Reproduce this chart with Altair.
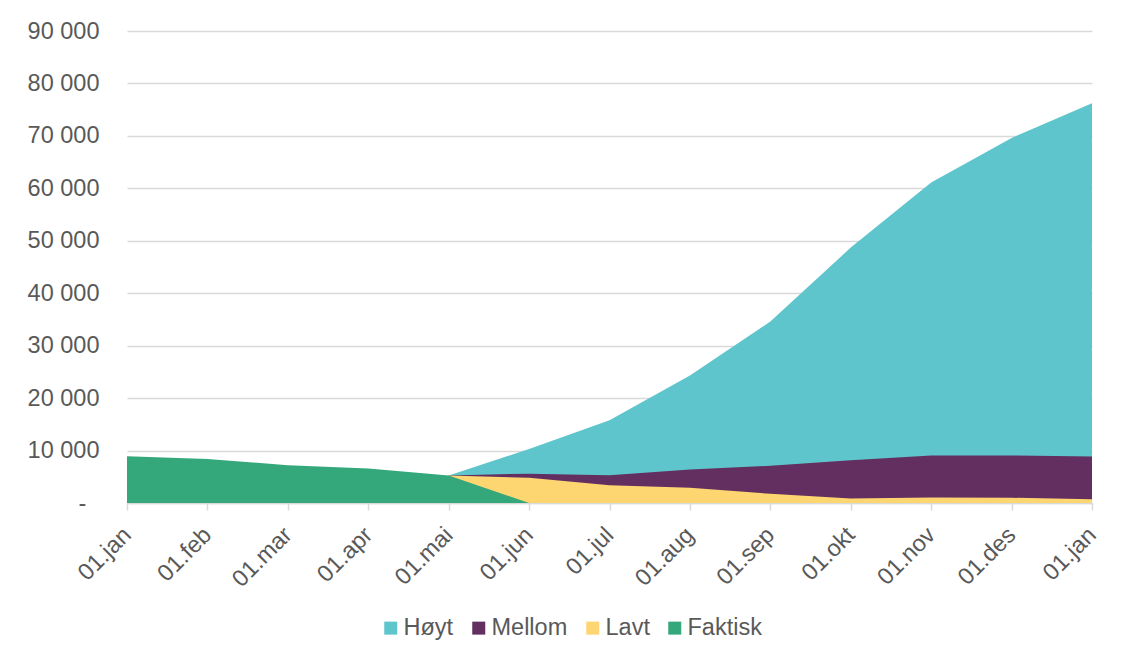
import altair as alt
import pandas as pd

month_labels = ["01.jan", "01.feb", "01.mar", "01.apr", "01.mai", "01.jun", "01.jul",
                "01.aug", "01.sep", "01.okt", "01.nov", "01.des", "01.jan"]
series_names = ["Høyt", "Mellom", "Lavt", "Faktisk"]
series_colors = ["#5fc5cc", "#632f61", "#fdd672", "#34a77b"]

hoyt = [None, None, None, None, 5250, 10300, 15800, 24300, 34600, 48700, 61100, 69600, 76200]
mellom = [None, None, None, None, 5250, 5600, 5300, 6400, 7100, 8150, 9050, 9050, 8850]
lavt = [None, None, None, None, 5250, 4800, 3400, 2900, 1750, 850, 1050, 1000, 700]
faktisk = [8900, 8400, 7200, 6600, 5250, 0, None, None, None, None, None, None, None]

rows = []
for name, vals in zip(series_names, [hoyt, mellom, lavt, faktisk]):
    for i, v in enumerate(vals):
        rows.append({"idx": i, "serie": name, "verdi": v})
df = pd.DataFrame(rows)

label_expr = "[" + ",".join("'" + m + "'" for m in month_labels) + "][datum.value]"

FONT = "Liberation Sans"
TXT = "#595959"
GRID = "#d9d9d9"

x_enc = alt.X(
    "idx:Q",
    scale=alt.Scale(domain=[0, 12], nice=False, zero=False),
    axis=alt.Axis(
        values=list(range(13)),
        labelExpr=label_expr,
        labelAngle=-45,
        labelAlign="right",
        labelBaseline="middle",
        labelPadding=21,
        labelFontSize=23.5,
        labelColor=TXT,
        labelFont=FONT,
        tickSize=7,
        tickColor=GRID,
        tickWidth=1.5,
        domainColor=GRID,
        domainWidth=1.5,
        grid=False,
        title=None,
    ),
)
y_enc = alt.Y(
    "verdi:Q",
    scale=alt.Scale(domain=[0, 90000], nice=False),
    axis=alt.Axis(
        values=list(range(0, 90001, 10000)),
        labelExpr="datum.value == 0 ? '-\u00a0\u00a0\u200d' : replace(format(datum.value, ','), ',', ' ')",
        labelFontSize=23.5,
        labelColor=TXT,
        labelFont=FONT,
        labelPadding=28,
        ticks=False,
        domain=False,
        gridColor=GRID,
        gridWidth=1.5,
        title=None,
    ),
)
color_enc = alt.Color(
    "serie:N",
    scale=alt.Scale(domain=series_names, range=series_colors),
    sort=series_names,
    legend=alt.Legend(
        title=None,
        orient="none",
        legendX=252,
        legendY=585,
        direction="horizontal",
        symbolType="square",
        symbolSize=169,
        symbolStrokeWidth=0,
        labelFontSize=23.5,
        labelColor=TXT,
        labelFont=FONT,
        labelOffset=1,
        columnPadding=13,
        padding=0,
    ),
)

layers = []
for name in series_names:
    layers.append(
        alt.Chart(df)
        .transform_filter(alt.datum.serie == name)
        .mark_area(opacity=1, interpolate="linear")
        .encode(x=x_enc, y=y_enc, color=color_enc)
    )

chart = (
    alt.layer(*layers)
    .properties(
        width=965,
        height=472,
        padding={"left": 119, "top": 23, "right": 41, "bottom": 154},
        autosize=alt.AutoSizeParams(type="none"),
    )
    .configure(background="white")
    .configure_view(stroke="transparent", strokeWidth=0)
)

chart.save("out.html", embed_options={"renderer": "svg", "actions": False})
